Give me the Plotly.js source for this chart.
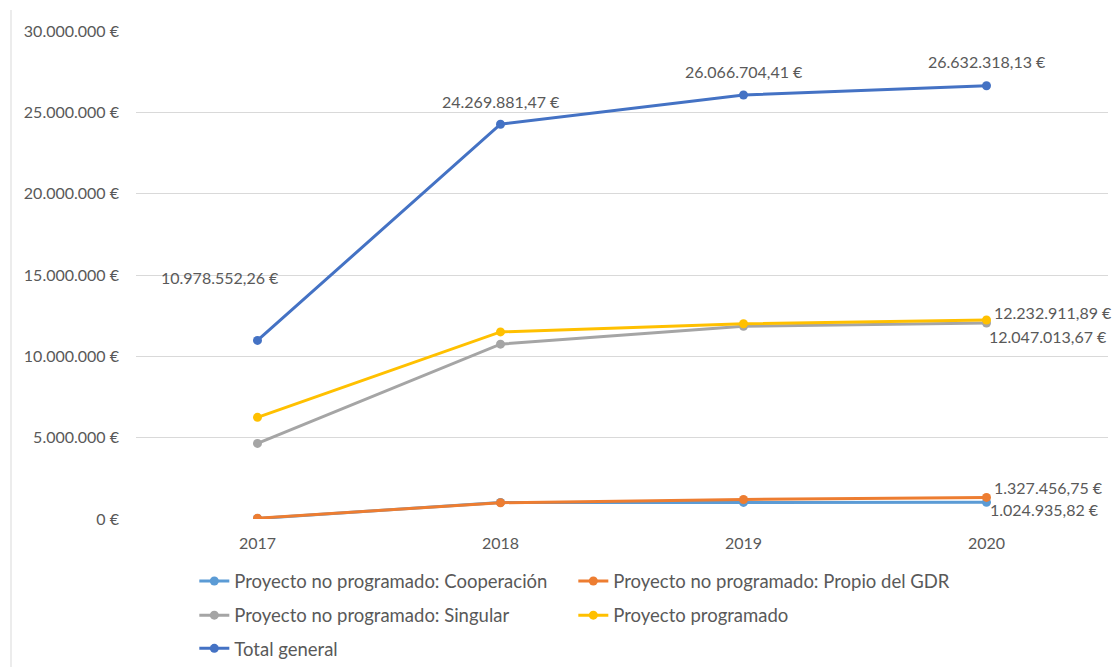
<!DOCTYPE html>
<html>
<head>
<meta charset="utf-8">
<script src="https://cdn.plot.ly/plotly-3.0.1.min.js"></script>
<style>html,body{margin:0;padding:0;background:#fff;}#chart{width:1115px;height:667px;}</style>
</head>
<body>
<div id="chart"></div>
<script>
const years = ["2017", "2018", "2019", "2020"];
const cooperacion = [30000, 1020000, 1020000, 1024935.82];
const propio = [50000, 1000000, 1200000, 1327456.75];
const singular = [4648552.26, 10749881.47, 11846704.41, 12047013.67];
const programado = [6250000, 11500000, 12000000, 12232911.89];
const total = [10978552.26, 24269881.47, 26066704.41, 26632318.13];
const yTicks = [0, 5000000, 10000000, 15000000, 20000000, 25000000, 30000000];
const EURO = "\u20AC";

const names = ["Proyecto no programado: Cooperación", "Proyecto no programado: Propio del GDR",
  "Proyecto no programado: Singular", "Proyecto programado", "Total general"];
const colors = ["#5B9BD5", "#ED7D31", "#A5A5A5", "#FFC000", "#4472C4"];
const series = [cooperacion, propio, singular, programado, total];
const legendIds = ["legend", "legend", "legend2", "legend2", "legend3"];

function groupThousands(s) {
  return s.replace(/\B(?=(\d{3})+(?!\d))/g, ".");
}
function fmt(v) {
  const parts = v.toFixed(2).split(".");
  return groupThousands(parts[0]) + "," + parts[1] + " " + EURO;
}
function fmtTick(v) {
  return groupThousands(String(Math.round(v))) + " " + EURO;
}

const FONT = "Lato, 'Open Sans', sans-serif";
const TXT = "#595959";
const NUMSIZE = 16;

const traces = series.map((s, i) => ({
  x: years, y: s, name: names[i], type: "scatter", mode: "lines+markers",
  line: {color: colors[i], width: 3}, marker: {color: colors[i], size: 9},
  legend: legendIds[i], hoverinfo: "skip"
}));

const ann = [];
const totShift = [[-38, 63], [0, 23], [0, 23], [0, 24]];
for (let i = 0; i < total.length; i++) {
  ann.push({x: i, y: total[i], xref: "x", yref: "y", text: fmt(total[i]), showarrow: false,
    xanchor: "center", yanchor: "middle", xshift: totShift[i][0], yshift: totShift[i][1],
    font: {family: FONT, size: NUMSIZE, color: TXT}});
}
const last = 3;
const side = [[programado, 5, 8], [singular, 0, -13], [propio, 5, 10], [cooperacion, 1, -7]];
for (const [s, xs, ys] of side) {
  ann.push({x: last, y: s[last], xref: "x", yref: "y", text: fmt(s[last]), showarrow: false,
    xanchor: "left", yanchor: "middle", xshift: xs, yshift: ys,
    font: {family: FONT, size: NUMSIZE, color: TXT}});
}

const legendBase = {orientation: "h", xanchor: "left", yanchor: "middle", x: 0.06,
  font: {family: FONT, size: 18.5, color: TXT}, bgcolor: "rgba(0,0,0,0)",
  entrywidth: 334, entrywidthmode: "pixels", itemclick: false, itemdoubleclick: false};

const layout = {
  width: 1115, height: 667,
  margin: {l: 136, r: 7, t: 31, b: 148, autoexpand: false},
  paper_bgcolor: "#ffffff", plot_bgcolor: "#ffffff",
  font: {family: FONT, color: TXT, size: NUMSIZE},
  xaxis: {type: "category", range: [-0.5, 3.5], showgrid: false, zeroline: false, showline: false,
    ticks: "", ticklabelstandoff: 13, tickfont: {family: FONT, size: NUMSIZE, color: TXT}, fixedrange: true},
  yaxis: {range: [0, 30000000], tickmode: "array", tickvals: yTicks, ticktext: yTicks.map(fmtTick),
    showgrid: true, gridcolor: "#D9D9D9", gridwidth: 1, zeroline: false, showline: false,
    ticks: "", ticklabelstandoff: 16, tickfont: {family: FONT, size: NUMSIZE, color: TXT}, fixedrange: true},
  showlegend: true,
  legend: Object.assign({}, legendBase, {y: -0.128}),
  legend2: Object.assign({}, legendBase, {y: -0.198}),
  legend3: Object.assign({}, legendBase, {y: -0.266}),
  annotations: ann,
  shapes: [{type: "line", xref: "paper", yref: "paper", x0: -0.1286, x1: -0.1286, y0: 1.043, y1: -0.31,
    line: {color: "#D9D9D9", width: 1}}]
};

Plotly.newPlot("chart", traces, layout, {displayModeBar: false, staticPlot: true});
</script>
</body>
</html>
